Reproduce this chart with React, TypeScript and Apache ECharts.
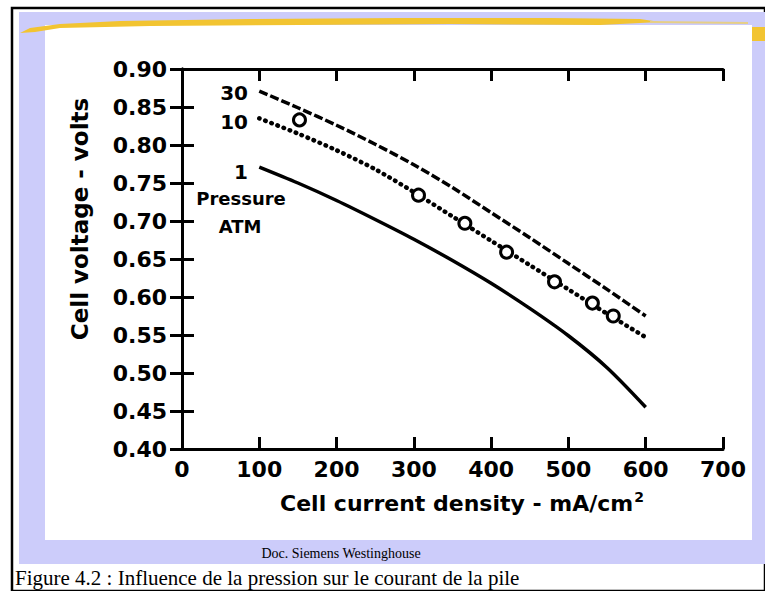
import React, { useEffect, useRef } from "react";
import * as echarts from "echarts";

const currentDensity = [100, 150, 200, 250, 300, 350, 400, 450, 500, 550, 600];
const volt30 = [0.871, 0.849, 0.826, 0.801, 0.774, 0.744, 0.711, 0.678, 0.644, 0.61, 0.575];
const volt10 = [0.835, 0.815, 0.793, 0.768, 0.738, 0.706, 0.674, 0.642, 0.61, 0.578, 0.547];
const volt1 = [0.771, 0.75, 0.727, 0.702, 0.676, 0.648, 0.618, 0.585, 0.549, 0.507, 0.455];
const measuredX = [152, 306, 366, 420, 482, 531, 558];
const measuredY = [0.833, 0.734, 0.697, 0.659, 0.62, 0.592, 0.575];
const pressureLabels = ["30", "10", "1"];

const FONT = "DejaVu Sans";

function pairs(xs: number[], ys: number[]) {
  return xs.map((x, i) => [x, ys[i]]);
}

export default function App() {
  const ref = useRef<HTMLDivElement>(null);
  useEffect(() => {
    const chart = echarts.init(ref.current!, undefined, { renderer: "svg" });
    const axisLine = { show: true, lineStyle: { color: "#000", width: 3 } };
    const tick = { show: true, inside: true, length: 12, lineStyle: { color: "#000", width: 3 } };
    const lbl = { color: "#000", fontFamily: FONT, fontWeight: "bold" as const, fontSize: 22 };
    const txt = (x: number, y: number, t: string, size: number, align = "center", extra: any = {}) => ({
      type: "text",
      x,
      y,
      style: {
        text: t,
        fill: "#000",
        font: `bold ${size}px "${FONT}"`,
        textAlign: align,
        textVerticalAlign: "middle",
      },
      ...extra,
    });
    chart.setOption({
      animation: false,
      backgroundColor: "#fff",
      grid: { left: 182, right: 42, top: 69, bottom: 142 },
      xAxis: [
        {
          type: "value",
          min: 0,
          max: 700,
          interval: 100,
          axisLine,
          axisTick: tick,
          splitLine: { show: false },
          axisLabel: { ...lbl, margin: 9 },
        },
        {
          type: "value",
          position: "top",
          min: 0,
          max: 700,
          interval: 100,
          axisLine,
          axisTick: tick,
          splitLine: { show: false },
          axisLabel: { show: false },
        },
      ],
      yAxis: [
        {
          type: "value",
          min: 0.4,
          max: 0.9,
          interval: 0.05,
          axisLine,
          axisTick: tick,
          splitLine: { show: false },
          axisLabel: { ...lbl, margin: 15, formatter: (v: number) => v.toFixed(2) },
        },
        {
          type: "value",
          position: "right",
          min: 0.4,
          max: 0.9,
          interval: 0.05,
          axisLine,
          axisTick: tick,
          splitLine: { show: false },
          axisLabel: { show: false },
        },
      ],
      graphic: [
        { type: "rect", z: -10, shape: { x: 12, y: 8, width: 753, height: 583 }, style: { fill: "#fff", stroke: "#000", lineWidth: 2.5 } },
        { type: "rect", z: -9, shape: { x: 19, y: 12, width: 746, height: 552 }, style: { fill: "#ccccfa" } },
        { type: "rect", z: -8, shape: { x: 45, y: 25, width: 707, height: 515 }, style: { fill: "#fff" } },
        {
          type: "polygon",
          z: -7,
          shape: {
            points: [
              [20, 33], [30, 28], [60, 24], [120, 21], [250, 19], [400, 18], [550, 18], [640, 19],
              [660, 22], [600, 25], [450, 24], [300, 25], [150, 26], [60, 28], [35, 32],
            ],
          },
          style: { fill: "#f2c431" },
        },
        { type: "line", z: -7, shape: { x1: 650, y1: 22, x2: 748, y2: 23 }, style: { stroke: "#e6cf86", lineWidth: 2 } },
        { type: "rect", z: -7, shape: { x: 752, y: 27, width: 13, height: 14 }, style: { fill: "#f2c431" } },
        txt(80, 219, "Cell voltage - volts", 23, "center", { rotation: Math.PI / 2 }),
        {
          type: "text",
          x: 462,
          y: 503,
          style: {
            text: "{a|Cell current density - mA/cm}{s|2}",
            textAlign: "center",
            textVerticalAlign: "middle",
            rich: {
              a: { fill: "#000", fontFamily: FONT, fontWeight: "bold", fontSize: 22 },
              s: { fill: "#000", fontFamily: FONT, fontWeight: "bold", fontSize: 14, padding: [0, 0, 12, 1] },
            },
          },
        },
        txt(248, 93, pressureLabels[0], 20, "right"),
        txt(248, 122, pressureLabels[1], 20, "right"),
        txt(248, 172, pressureLabels[2], 20, "right"),
        txt(241, 198, "Pressure", 18),
        txt(240, 226, "ATM", 18),
        {
          type: "text",
          x: 341,
          y: 553,
          style: { text: "Doc. Siemens Westinghouse", fill: "#000", font: '14px "Liberation Serif"', textAlign: "center", textVerticalAlign: "middle" },
        },
        {
          type: "text",
          x: 15,
          y: 578,
          style: { text: "Figure 4.2 : Influence de la pression sur le courant de la pile", fill: "#000", font: '21px "Liberation Serif"', textAlign: "left", textVerticalAlign: "middle" },
        },
      ],
      series: [
        {
          name: "30 ATM",
          type: "line",
          data: pairs(currentDensity, volt30),
          smooth: 0.3,
          symbol: "none",
          lineStyle: { color: "#000", width: 3.5, type: [9, 3] },
        },
        {
          name: "10 ATM",
          type: "line",
          data: pairs(currentDensity, volt10),
          smooth: 0.3,
          symbol: "none",
          lineStyle: { color: "#000", width: 4.5, type: [0.5, 6], cap: "round" },
        },
        {
          name: "1 ATM",
          type: "line",
          data: pairs(currentDensity, volt1),
          smooth: 0.3,
          symbol: "none",
          lineStyle: { color: "#000", width: 3.5 },
        },
        {
          name: "Mesures",
          type: "scatter",
          data: pairs(measuredX, measuredY),
          symbol: "circle",
          symbolSize: 12,
          itemStyle: { color: "#fff", borderColor: "#000", borderWidth: 3, opacity: 1 },
          z: 5,
        },
      ],
    });
    return () => chart.dispose();
  }, []);
  return <div ref={ref} style={{ position: "absolute", left: 0, top: 0, width: 765, height: 591 }} />;
}
